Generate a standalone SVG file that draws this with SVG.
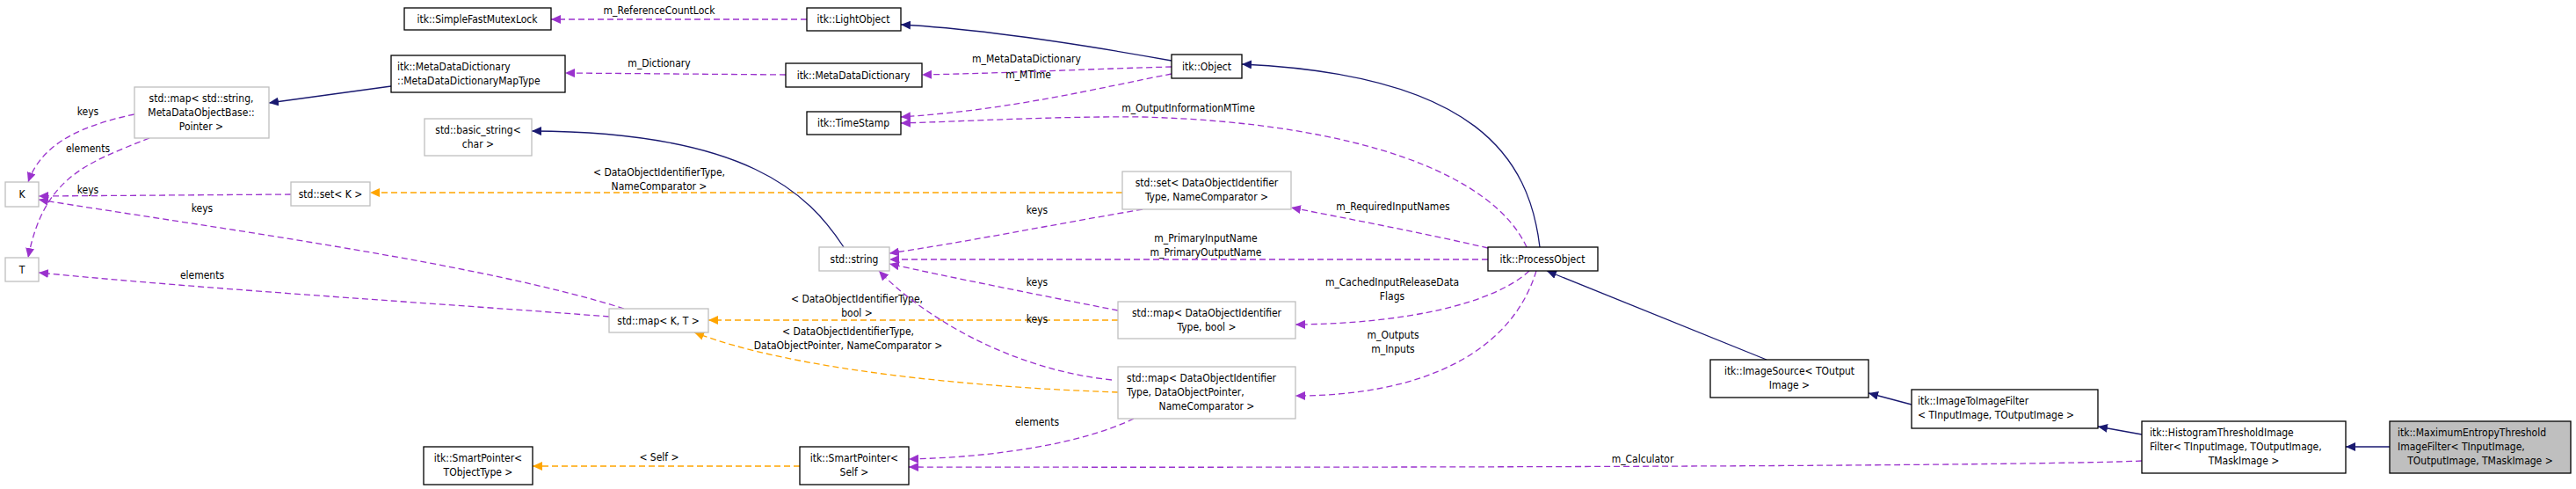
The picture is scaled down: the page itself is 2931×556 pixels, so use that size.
<svg xmlns="http://www.w3.org/2000/svg" width="2931" height="556" viewBox="0 0 2931 556">
<style>
text{font-family:"DejaVu Sans Condensed","Open Sans","Liberation Sans",sans-serif;font-size:12px;fill:#000}
.c{text-anchor:middle}
.n rect{fill:#fff;stroke:#000;stroke-width:1.3}
.g rect{fill:#fff;stroke:#bfbfbf;stroke-width:1.3}
.sel rect{fill:#bfbfbf;stroke:#000;stroke-width:1.3}
.inh{fill:none;stroke:#191970;stroke-width:1.3;marker-end:url(#an)}
.use{fill:none;stroke:#9a32cd;stroke-width:1.3;stroke-dasharray:7,4;marker-end:url(#ap)}
.tpl{fill:none;stroke:#ffa500;stroke-width:1.3;stroke-dasharray:7,4;marker-end:url(#ao)}
</style>
<defs>
<marker id="an" markerWidth="12" markerHeight="10" refX="11" refY="5" orient="auto" markerUnits="userSpaceOnUse"><path d="M0,0 L11,5 L0,10 Z" fill="#191970"/></marker>
<marker id="ap" markerWidth="12" markerHeight="10" refX="11" refY="5" orient="auto" markerUnits="userSpaceOnUse"><path d="M0,0 L11,5 L0,10 Z" fill="#9a32cd"/></marker>
<marker id="ao" markerWidth="12" markerHeight="10" refX="11" refY="5" orient="auto" markerUnits="userSpaceOnUse"><path d="M0,0 L11,5 L0,10 Z" fill="#ffa500"/></marker>
</defs>
<rect width="2931" height="556" fill="#fff"/>
<g id="edges">
<path class="use" d="M918,22 L627,22"/>
<text class="c" x="750" y="16">m_ReferenceCountLock</text>
<path class="inh" d="M1333,69 C1200,45 1100,32 1025,28"/>
<path class="use" d="M1333,76 C1250,78 1150,83 1049,85"/>
<text class="c" x="1168" y="71">m_MetaDataDictionary</text>
<path class="use" d="M1333,84 C1250,100 1150,125 1025,133"/>
<text class="c" x="1170" y="89">m_MTime</text>
<path class="use" d="M1737,281 C1700,200 1550,140 1300,133 C1200,132 1100,138 1025,140"/>
<text class="c" x="1352" y="127">m_OutputInformationMTime</text>
<path class="inh" d="M1752,281 C1740,180 1680,85 1413,73"/>
<path class="use" d="M894,85 L643,83"/>
<text class="c" x="750" y="76">m_Dictionary</text>
<path class="inh" d="M445,98 L306,117"/>
<path class="use" d="M153,130 C80,145 45,170 32,207"/>
<text class="c" x="100" y="131">keys</text>
<path class="use" d="M170,157 C100,185 50,200 32,293"/>
<text class="c" x="100" y="173">elements</text>
<path class="use" d="M331,221 L44,223"/>
<text class="c" x="100" y="220">keys</text>
<path class="use" d="M710,351 C550,300 250,260 44,227"/>
<text class="c" x="230" y="241">keys</text>
<path class="use" d="M693,360 C500,345 250,330 44,310"/>
<text class="c" x="230" y="317">elements</text>
<path class="tpl" d="M1277,219 L421,219"/>
<text class="c" x="750" y="200">&lt; DataObjectIdentifierType,</text>
<text class="c" x="750" y="216">NameComparator &gt;</text>
<path class="inh" d="M960,281 C920,220 850,150 605,149"/>
<path class="use" d="M1300,238 C1200,255 1100,275 1012,288"/>
<text class="c" x="1180" y="243">keys</text>
<path class="use" d="M1693,295 L1012,295"/>
<text class="c" x="1372" y="275">m_PrimaryInputName</text>
<text class="c" x="1372" y="291">m_PrimaryOutputName</text>
<path class="use" d="M1693,282 C1620,265 1540,250 1469,236"/>
<text class="c" x="1585" y="239">m_RequiredInputNames</text>
<path class="use" d="M1272,353 C1180,335 1080,315 1012,300"/>
<text class="c" x="1180" y="325">keys</text>
<path class="tpl" d="M1272,364 L806,364"/>
<text class="c" x="975" y="344">&lt; DataObjectIdentifierType,</text>
<text class="c" x="975" y="360">bool &gt;</text>
<text class="c" x="1180" y="367">keys</text>
<path class="use" d="M1740,308 C1700,345 1600,368 1474,369"/>
<text class="c" x="1584" y="325">m_CachedInputReleaseData</text>
<text class="c" x="1584" y="341">Flags</text>
<path class="use" d="M1748,308 C1720,400 1620,450 1474,450"/>
<text class="c" x="1585" y="385">m_Outputs</text>
<text class="c" x="1585" y="401">m_Inputs</text>
<path class="tpl" d="M1272,446 C1100,440 900,420 790,378"/>
<text class="c" x="965" y="381">&lt; DataObjectIdentifierType,</text>
<text class="c" x="965" y="397">DataObjectPointer, NameComparator &gt;</text>
<path class="use" d="M1265,432 C1150,420 1050,360 1000,308"/>
<path class="use" d="M1290,476 C1230,505 1130,520 1034,522"/>
<text class="c" x="1180" y="484">elements</text>
<path class="tpl" d="M910,530 L606,530"/>
<text class="c" x="750" y="524">&lt; Self &gt;</text>
<path class="use" d="M2437,524 C2300,530 1600,532 1034,531"/>
<text class="c" x="1869" y="526">m_Calculator</text>
<path class="inh" d="M2010,409 L1760,308"/>
<path class="inh" d="M2175,460 L2126,447"/>
<path class="inh" d="M2437,494 L2387,485"/>
<path class="inh" d="M2719,508 L2669,508"/>
</g>
<g id="SimpleFastMutexLock" class="n"><rect x="460" y="9" width="167" height="25"/><text class="c" x="543" y="26">itk::SimpleFastMutexLock</text></g>
<g id="LightObject" class="n"><rect x="918" y="9" width="107" height="26"/><text class="c" x="971" y="26">itk::LightObject</text></g>
<g id="MapType" class="n"><rect x="445" y="63" width="198" height="42"/><text x="452" y="80">itk::MetaDataDictionary</text><text x="452" y="96">::MetaDataDictionaryMapType</text></g>
<g id="MetaDataDictionary" class="n"><rect x="894" y="72" width="155" height="27"/><text class="c" x="971" y="90">itk::MetaDataDictionary</text></g>
<g id="Object" class="n"><rect x="1333" y="62" width="80" height="27"/><text class="c" x="1373" y="80">itk::Object</text></g>
<g id="TimeStamp" class="n"><rect x="918" y="127" width="107" height="26"/><text class="c" x="971" y="144">itk::TimeStamp</text></g>
<g id="basic_string" class="g"><rect x="483" y="135" width="122" height="42"/><text class="c" x="544" y="152">std::basic_string&lt;</text><text class="c" x="544" y="168">char &gt;</text></g>
<g id="map_string" class="g"><rect x="153" y="99" width="153" height="58"/><text class="c" x="229" y="116">std::map&lt; std::string,</text><text class="c" x="229" y="132">MetaDataObjectBase::</text><text class="c" x="229" y="148">Pointer &gt;</text></g>
<g id="K" class="g"><rect x="6" y="207" width="38" height="28"/><text class="c" x="25" y="225">K</text></g>
<g id="T" class="g"><rect x="6" y="293" width="38" height="27"/><text class="c" x="25" y="311">T</text></g>
<g id="set_K" class="g"><rect x="331" y="207" width="90" height="27"/><text class="c" x="376" y="225">std::set&lt; K &gt;</text></g>
<g id="map_KT" class="g"><rect x="693" y="351" width="113" height="27"/><text class="c" x="749" y="369">std::map&lt; K, T &gt;</text></g>
<g id="string" class="g"><rect x="932" y="281" width="80" height="27"/><text class="c" x="972" y="299">std::string</text></g>
<g id="set_DOIT" class="g"><rect x="1277" y="195" width="192" height="43"/><text class="c" x="1373" y="212">std::set&lt; DataObjectIdentifier</text><text class="c" x="1373" y="228">Type, NameComparator &gt;</text></g>
<g id="map_bool" class="g"><rect x="1272" y="343" width="202" height="42"/><text class="c" x="1373" y="360">std::map&lt; DataObjectIdentifier</text><text class="c" x="1373" y="376">Type, bool &gt;</text></g>
<g id="map_DOP" class="g"><rect x="1272" y="417" width="202" height="59"/><text x="1282" y="434">std::map&lt; DataObjectIdentifier</text><text x="1282" y="450">Type, DataObjectPointer,</text><text class="c" x="1373" y="466">NameComparator &gt;</text></g>
<g id="SmartPointerT" class="n"><rect x="482" y="508" width="124" height="43"/><text class="c" x="544" y="525">itk::SmartPointer&lt;</text><text class="c" x="544" y="541">TObjectType &gt;</text></g>
<g id="SmartPointerSelf" class="n"><rect x="910" y="508" width="124" height="43"/><text class="c" x="972" y="525">itk::SmartPointer&lt;</text><text class="c" x="972" y="541">Self &gt;</text></g>
<g id="ProcessObject" class="n"><rect x="1693" y="281" width="125" height="27"/><text class="c" x="1755" y="299">itk::ProcessObject</text></g>
<g id="ImageSource" class="n"><rect x="1946" y="409" width="180" height="43"/><text class="c" x="2036" y="426">itk::ImageSource&lt; TOutput</text><text class="c" x="2036" y="442">Image &gt;</text></g>
<g id="ImageToImageFilter" class="n"><rect x="2175" y="443" width="212" height="44"/><text x="2182" y="460">itk::ImageToImageFilter</text><text x="2182" y="476">&lt; TInputImage, TOutputImage &gt;</text></g>
<g id="HistogramThreshold" class="n"><rect x="2437" y="479" width="232" height="59"/><text x="2446" y="496">itk::HistogramThresholdImage</text><text x="2446" y="512">Filter&lt; TInputImage, TOutputImage,</text><text class="c" x="2553" y="528">TMaskImage &gt;</text></g>
<g id="MaximumEntropy" class="sel"><rect x="2719" y="479" width="206" height="59"/><text x="2728" y="496">itk::MaximumEntropyThreshold</text><text x="2728" y="512">ImageFilter&lt; TInputImage,</text><text class="c" x="2822" y="528">TOutputImage, TMaskImage &gt;</text></g>
</svg>
